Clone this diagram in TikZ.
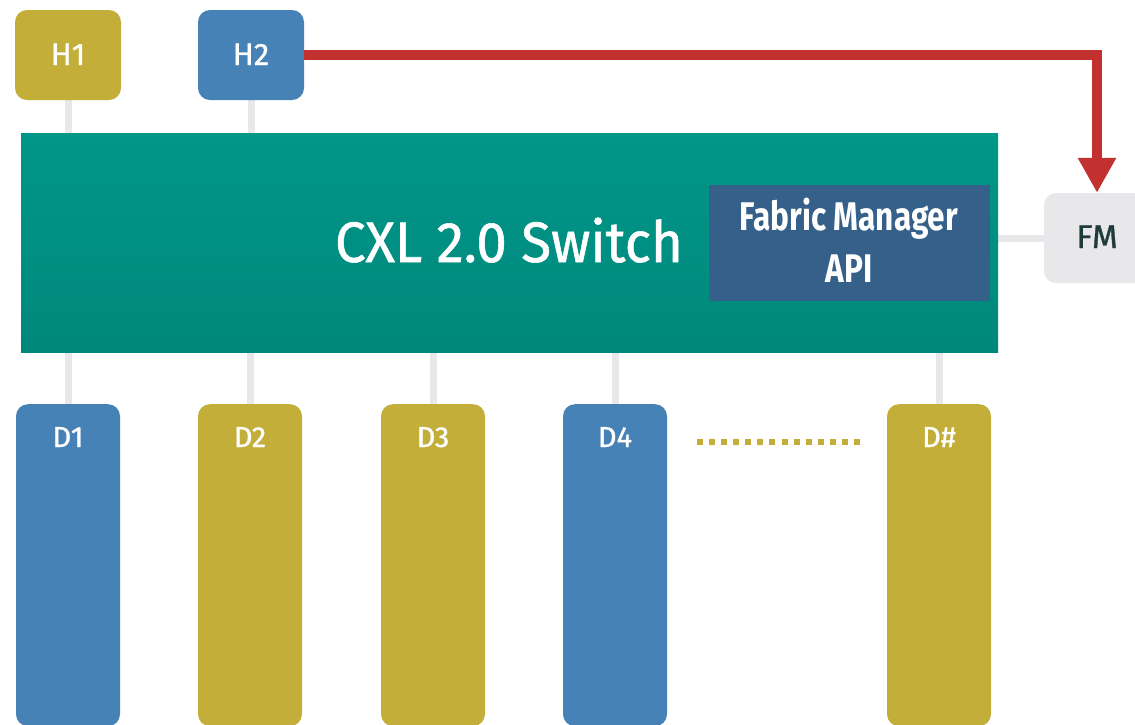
\documentclass[tikz,border=0pt]{standalone}
\usepackage{fontspec}
\setmainfont{Fira Sans}
\newfontfamily\dinfont[FakeBold=1]{Fira Sans}
\newfontfamily\dinwide[FakeBold=1,FakeStretch=0.96]{Fira Sans}
\newfontfamily\dincond[FakeStretch=0.79]{Fira Sans}
\usetikzlibrary{arrows.meta,backgrounds}

\definecolor{olive}{HTML}{C4AE3A}
\definecolor{steel}{HTML}{4682B6}
\definecolor{tealtop}{HTML}{009688}
\definecolor{tealbot}{HTML}{00877B}
\definecolor{apiblue}{HTML}{356089}
\definecolor{linkred}{HTML}{C33030}
\definecolor{linkgray}{HTML}{E8E8EA}
\definecolor{fmtext}{HTML}{1F3B3B}

\tikzset{
  hostbox/.style={rounded corners=12pt, minimum width=106pt, minimum height=90pt, inner sep=0pt, draw=none},
  devbox/.style={rounded corners=12pt, minimum width=104pt, minimum height=322pt, inner sep=0pt, draw=none, anchor=north},
  boxtext/.style={text=white, font=\dinfont\fontsize{31}{31}\selectfont, anchor=base, inner sep=0pt},
  devtext/.style={text=white, font=\dinfont\fontsize{29}{29}\selectfont, anchor=base, inner sep=0pt},
  link/.style={draw=linkgray, line width=7pt},
}

\begin{document}
\begin{tikzpicture}[x=1pt,y=-1pt]
\useasboundingbox (0,0) rectangle (1135,724);
\clip (0,0) rectangle (1135,724);

% hosts
\node[hostbox, fill=olive] (H1) at (68,55) {};
\node[hostbox, fill=steel] (H2) at (251,55) {};
\node[boxtext] (H1t) at (68,65) {H1};
\node[boxtext] (H2t) at (251,65) {H2};

% switch
\node[minimum width=977pt, minimum height=219pt, inner sep=0pt,
      top color=tealtop, bottom color=tealbot, middle color=tealtop!60!tealbot,
      anchor=north west] (sw) at (21,133) {};
\node[text=white, font=\dinwide\fontsize{57}{57}\selectfont, anchor=base, inner sep=0pt]
      (swt) at (509,262) {CXL 2.0 Switch};

% fabric manager API block
\node[fill=apiblue, minimum width=281pt, minimum height=116pt, inner sep=0pt,
      anchor=north west] (api) at (709,185) {};
\node[text=white, font=\dincond\bfseries\fontsize{40}{40}\selectfont, anchor=base, inner sep=0pt]
      (api1) at (849,230) {Fabric Manager};
\node[text=white, font=\dincond\bfseries\fontsize{40}{40}\selectfont, anchor=base, inner sep=0pt]
      (api2) at (849,282) {API};

% fabric manager
\node[hostbox, fill=linkgray] (FM) at (1097,238) {};
\node[text=fmtext, font=\dinfont\fontsize{33}{33}\selectfont, anchor=base, inner sep=0pt]
      (FMt) at (1097,248) {FM};

% devices
\node[devbox, fill=steel] (D1) at (68,404) {};
\node[devbox, fill=olive] (D2) at (250,404) {};
\node[devbox, fill=olive] (D3) at (433,404) {};
\node[devbox, fill=steel] (D4) at (615,404) {};
\node[devbox, fill=olive] (Dn) at (939,404) {};
\node[devtext] (D1t) at (68,447) {D1};
\node[devtext] (D2t) at (250,447) {D2};
\node[devtext] (D3t) at (433,447) {D3};
\node[devtext] (D4t) at (615,447) {D4};
\node[devtext] (Dnt) at (939,447) {D\#};

% ellipsis between D4 and D#
\coordinate (dotsL) at (697,442);
\coordinate (dotsR) at (860,442);
\draw[olive, line width=6pt, dash pattern=on 6pt off 6.08pt] (dotsL) -- (dotsR);

% gray links behind the boxes
\begin{scope}[on background layer]
  \draw[link] (H1.south) -- (H1.south |- sw.north);
  \draw[link] (H2.south) -- (H2.south |- sw.north);
  \draw[link] (D1.north) -- (D1.north |- sw.south);
  \draw[link] (D2.north) -- (D2.north |- sw.south);
  \draw[link] (D3.north) -- (D3.north |- sw.south);
  \draw[link] (D4.north) -- (D4.north |- sw.south);
  \draw[link] (Dn.north) -- (Dn.north |- sw.south);
  \draw[link] (FM.west) -- (FM.west -| sw.east);
\end{scope}

% management path from H2 to FM
\draw[linkred, line width=10pt, line join=miter,
      -{Triangle[width=36pt,length=35pt]}]
  (H2.east) -- (H2.east -| FM.north) -- (FM.north);
\end{tikzpicture}
\end{document}
